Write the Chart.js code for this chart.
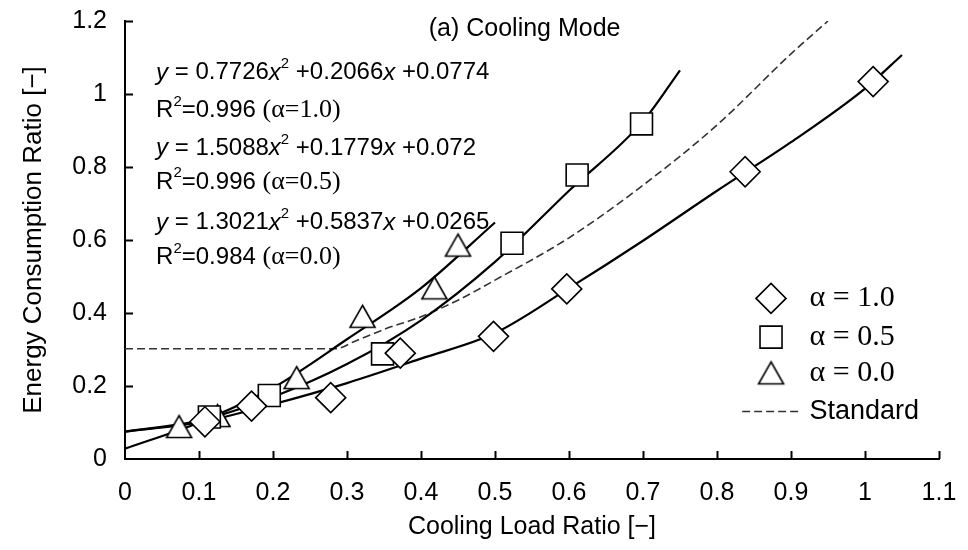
<!DOCTYPE html>
<html>
<head>
<meta charset="utf-8">
<script src="https://cdn.jsdelivr.net/npm/chart.js@4/dist/chart.umd.min.js"></script>
<style>
  html, body { margin: 0; padding: 0; background: #fff; }
</style>
</head>
<body>
<canvas id="chart" width="968" height="550"></canvas>
<script>
const alpha10X = [0.108, 0.171, 0.278, 0.372, 0.498, 0.597, 0.838, 1.011];
const alpha10Y = [0.102, 0.145, 0.168, 0.290, 0.336, 0.466, 0.787, 1.034];

const alpha05X = [0.114, 0.195, 0.348, 0.523, 0.611, 0.698];
const alpha05Y = [0.115, 0.174, 0.288, 0.591, 0.778, 0.918];

const alpha00X = [0.073, 0.125, 0.232, 0.321, 0.418, 0.450];
const alpha00Y = [0.089, 0.119, 0.223, 0.391, 0.469, 0.586];

// --- fitted curves ---
const fit10X = [0, 0.1, 0.2, 0.3, 0.4, 0.5, 0.6, 0.7, 0.8, 0.9, 1.0, 1.05];
const fit10Y = [0.075, 0.100, 0.150, 0.208, 0.275, 0.345, 0.468, 0.598, 0.735, 0.868, 1.015, 1.107];

const fit05X = [0, 0.1, 0.2, 0.3, 0.4, 0.5, 0.6, 0.7, 0.75];
const fit05Y = [0.075, 0.105, 0.170, 0.260, 0.380, 0.540, 0.735, 0.925, 1.065];

const fit00X = [0, 0.1, 0.2, 0.3, 0.4, 0.5];
const fit00Y = [0.028, 0.100, 0.195, 0.328, 0.468, 0.648];

const standardX = [0, 0.285, 0.31, 0.35, 0.4, 0.45, 0.5, 0.6, 0.7, 0.8, 0.9, 0.95];
const standardY = [0.302, 0.302, 0.322, 0.355, 0.390, 0.435, 0.490, 0.606, 0.750, 0.915, 1.110, 1.200];

// --- axes ---
const xTickValues = [0, 0.1, 0.2, 0.3, 0.4, 0.5, 0.6, 0.7, 0.8, 0.9, 1.0, 1.1];
const xTickLabels = ["0", "0.1", "0.2", "0.3", "0.4", "0.5", "0.6", "0.7", "0.8", "0.9", "1", "1.1"];
const yTickValues = [0, 0.2, 0.4, 0.6, 0.8, 1.0, 1.2];
const yTickLabels = ["0", "0.2", "0.4", "0.6", "0.8", "1", "1.2"];

const legendLabels = ["α = 1.0", "α = 0.5", "α = 0.0", "Standard"];
const chartTitle = "(a) Cooling Mode";
const xTitle = "Cooling Load Ratio [−]";
const yTitle = "Energy Consumption Ratio [−]";

// equation block: [coeff a, coeff b, coeff c, R², alpha]
const fitText = [
  ["0.7726", "0.2066", "0.0774", "0.996", "1.0"],
  ["1.5088", "0.1779", "0.072",  "0.996", "0.5"],
  ["1.3021", "0.5837", "0.0265", "0.984", "0.0"]
];

const SANS  = '"Liberation Sans", Arial, sans-serif';
const SERIF = '"Liberation Serif", "Times New Roman", serif';

const pts = (xs, ys) => xs.map((x, i) => ({ x, y: ys[i] }));

// triangle marker centred on its bounding box
function triangleMarker(w, h, lw) {
  const c = document.createElement("canvas");
  c.width = w + 6; c.height = w + 6;
  const g = c.getContext("2d");
  const cx = c.width / 2, cy = c.height / 2;
  g.beginPath();
  g.moveTo(cx, cy - h / 2);
  g.lineTo(cx + w / 2, cy + h / 2);
  g.lineTo(cx - w / 2, cy + h / 2);
  g.closePath();
  g.fillStyle = "#fff"; g.fill();
  g.lineWidth = lw; g.lineJoin = "miter"; g.strokeStyle = "#000"; g.stroke();
  return c;
}
const triImg = triangleMarker(25, 22, 1.6);

function markerSet(label, data, style, radius) {
  return {
    label, data, showLine: false, order: 0,
    pointStyle: style, pointRadius: radius, pointHoverRadius: radius,
    pointBackgroundColor: "#fff", pointBorderColor: "#000", pointBorderWidth: 1.6
  };
}
function curveSet(label, data, color, width, dash) {
  return {
    label, data, showLine: true, order: 1,
    borderColor: color, borderWidth: width, borderDash: dash || [],
    pointRadius: 0, pointHoverRadius: 0, fill: false,
    cubicInterpolationMode: "monotone"
  };
}

// rich text: italic variables, superscripts, serif alpha part
function drawRuns(ctx, runs, x, y, size) {
  ctx.textBaseline = "middle";
  ctx.textAlign = "left";
  runs.forEach(r => {
    const fam = r.serif ? SERIF : SANS;
    let sz = r.sup ? Math.round(size * 0.62) : size;
    if (r.serif) sz = size + 2;
    ctx.font = (r.it ? "italic " : "") + sz + "px " + fam;
    ctx.fillText(r.t, x, r.sup ? y - size * 0.36 : y);
    x += ctx.measureText(r.t).width;
  });
}

const annotations = {
  id: "annotations",
  afterDraw(chart) {
    const { ctx, scales: { x, y }, chartArea } = chart;
    ctx.save();
    ctx.fillStyle = "#000";
    ctx.strokeStyle = "#000";

    // inward tick marks
    ctx.lineWidth = 2;
    ctx.beginPath();
    xTickValues.forEach(v => {
      if (v === 0) return;
      const px = Math.round(x.getPixelForValue(v)) + 0.5;
      ctx.moveTo(px, chartArea.bottom);
      ctx.lineTo(px, chartArea.bottom - 8);
    });
    yTickValues.forEach(v => {
      if (v === 0) return;
      const py = Math.round(y.getPixelForValue(v)) + 0.5;
      ctx.moveTo(chartArea.left, py);
      ctx.lineTo(chartArea.left + 8, py);
    });
    ctx.stroke();

    // title
    ctx.font = "25px " + SANS;
    ctx.textAlign = "center";
    ctx.textBaseline = "middle";
    ctx.fillText(chartTitle, x.getPixelForValue(0.54), y.getPixelForValue(1.178));

    // equations
    const ex = x.getPixelForValue(0.042);
    const rowY = [1.058, 0.956, 0.852, 0.759, 0.647, 0.553];
    fitText.forEach((f, i) => {
      drawRuns(ctx, [
        { t: "y", it: true }, { t: " = " + f[0] }, { t: "x", it: true }, { t: "2", sup: true },
        { t: " +" + f[1] }, { t: "x", it: true }, { t: " +" + f[2] }
      ], ex, y.getPixelForValue(rowY[i * 2]), 24);
      drawRuns(ctx, [
        { t: "R" }, { t: "2", sup: true }, { t: "=" + f[3] + " " },
        { t: "(α=" + f[4] + ")", serif: true }
      ], ex, y.getPixelForValue(rowY[i * 2 + 1]), 24);
    });

    // legend
    const sx = x.getPixelForValue(0.873);
    const tx = x.getPixelForValue(0.925);
    const ly = [0.44, 0.334, 0.236, 0.13].map(v => y.getPixelForValue(v));
    ctx.lineWidth = 1.6;
    // diamond
    ctx.beginPath();
    ctx.moveTo(sx - 15, ly[0]); ctx.lineTo(sx, ly[0] - 15);
    ctx.lineTo(sx + 15, ly[0]); ctx.lineTo(sx, ly[0] + 15); ctx.closePath();
    ctx.fillStyle = "#fff"; ctx.fill(); ctx.stroke();
    // square
    ctx.beginPath();
    ctx.rect(sx - 11, ly[1] - 11, 22, 22);
    ctx.fill(); ctx.stroke();
    // triangle
    ctx.drawImage(triImg, sx - triImg.width / 2, ly[2] - triImg.height / 2);
    // dashed line
    ctx.strokeStyle = "#333";
    ctx.lineWidth = 1.6;
    ctx.setLineDash([8, 4]);
    ctx.beginPath();
    ctx.moveTo(x.getPixelForValue(0.834), ly[3]);
    ctx.lineTo(x.getPixelForValue(0.912), ly[3]);
    ctx.stroke();
    ctx.setLineDash([]);

    ctx.fillStyle = "#000";
    ctx.textAlign = "left";
    ctx.textBaseline = "middle";
    ctx.font = "30px " + SERIF;
    for (let i = 0; i < 3; i++) ctx.fillText(legendLabels[i], tx, ly[i]);
    ctx.font = "27px " + SANS;
    ctx.fillText(legendLabels[3], tx, ly[3]);

    ctx.restore();
  }
};

new Chart(document.getElementById("chart"), {
  type: "scatter",
  data: {
    datasets: [
      markerSet("α = 1.0", pts(alpha10X, alpha10Y), "rectRot", 15),
      markerSet("α = 0.5", pts(alpha05X, alpha05Y), "rect", 15.5),
      markerSet("α = 0.0", pts(alpha00X, alpha00Y), triImg, 13),
      curveSet("fit 1.0", pts(fit10X, fit10Y), "#000", 2.2),
      curveSet("fit 0.5", pts(fit05X, fit05Y), "#000", 2.2),
      curveSet("fit 0.0", pts(fit00X, fit00Y), "#000", 2.2),
      curveSet("Standard", pts(standardX, standardY), "#333", 1.6, [8, 4])
    ]
  },
  options: {
    responsive: false,
    animation: false,
    devicePixelRatio: 1,
    layout: { padding: { top: 21, right: 29, left: 0, bottom: 0 } },
    plugins: {
      legend: { display: false },
      tooltip: { enabled: false }
    },
    scales: {
      x: {
        type: "linear", min: 0, max: 1.1,
        afterBuildTicks: s => { s.ticks = xTickValues.map(v => ({ value: v })); },
        afterFit: s => { s.height = 91; s.paddingLeft = 0; s.paddingRight = 0; },
        grid: { display: true, drawOnChartArea: false, drawTicks: false },
        border: { display: true, color: "#000", width: 2 },
        ticks: {
          padding: 19, color: "#000",
          font: { family: SANS, size: 25 },
          maxRotation: 0, autoSkip: false,
          callback: (v, i) => xTickLabels[i]
        },
        title: {
          display: true, text: xTitle, color: "#000",
          font: { family: SANS, size: 25 },
          padding: { top: 0, bottom: 8 }
        }
      },
      y: {
        type: "linear", min: 0, max: 1.2,
        afterBuildTicks: s => { s.ticks = yTickValues.map(v => ({ value: v })); },
        afterFit: s => { s.width = 125; s.paddingTop = 0; s.paddingBottom = 0; },
        grid: { display: true, drawOnChartArea: false, drawTicks: false },
        border: { display: true, color: "#000", width: 2 },
        ticks: {
          padding: 18, color: "#000",
          font: { family: SANS, size: 25 },
          autoSkip: false,
          callback: (v, i) => yTickLabels[i]
        },
        title: {
          display: true, text: yTitle, color: "#000",
          font: { family: SANS, size: 26 },
          padding: { top: 18, bottom: 0 }
        }
      }
    }
  },
  plugins: [annotations]
});
</script>
</body>
</html>
